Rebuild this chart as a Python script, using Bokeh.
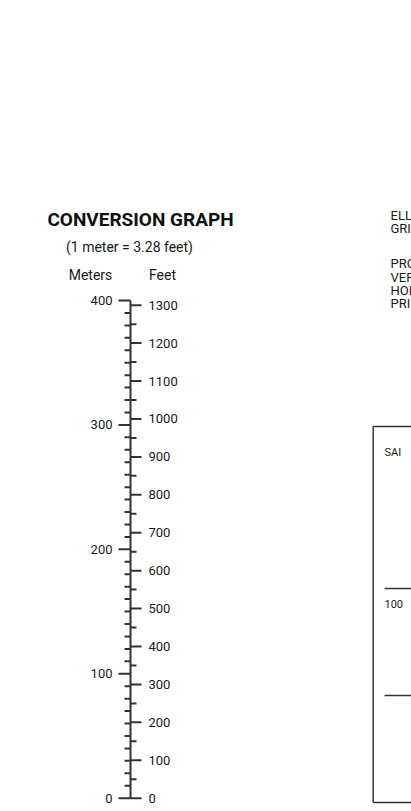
from bokeh.plotting import figure
from bokeh.models import Range1d
from bokeh.core.properties import value
from bokeh.embed import file_html
from bokeh.resources import INLINE

# ---- data ----
meters_major = [0, 100, 200, 300, 400]
meters_minor = [m for m in range(0, 401, 10) if m % 100 != 0]
feet_major = list(range(0, 1301, 100))
feet_minor = list(range(50, 1300, 100))
meters_labels = [str(m) for m in meters_major]
feet_labels = [str(f) for f in feet_major]
FT_PER_M = 3.28084

title = "CONVERSION GRAPH"
subtitle = "(1 meter = 3.28 feet)"
right_lines = ["ELL", "GRI", "PRO", "VER", "HOI", "PRI"]

# ---- layout (page pixel coordinates) ----
W, H = 411, 811
ZERO_Y = 797.7
PX_PER_M = 497.7 / 400.0
AXIS_X = 130
m_top = ZERO_Y / PX_PER_M
m_bot = (ZERO_Y - H) / PX_PER_M

p = figure(width=W, height=H, output_backend="svg", toolbar_location=None,
           x_range=Range1d(0, W), y_range=Range1d(m_bot, m_top),
           x_axis_location=None, y_axis_location=None, min_border=0,
           background_fill_color="white", border_fill_color="white")
p.extra_y_ranges = {"feet": Range1d(m_bot * FT_PER_M, m_top * FT_PER_M),
                    "page": Range1d(H, 0)}
p.grid.visible = False
p.outline_line_color = None

LC = "#333333"
TC = "#1a1a1a"
FONT = value("Roboto")

# main scale line
p.segment(x0=[AXIS_X], y0=[meters_major[0]], x1=[AXIS_X], y1=[meters_major[-1]],
          line_color=LC, line_width=2)
# meter ticks (left)
p.segment(x0=AXIS_X - 12, x1=AXIS_X, y0=meters_major, y1=meters_major,
          line_color=LC, line_width=2)
p.segment(x0=AXIS_X - 6, x1=AXIS_X, y0=meters_minor, y1=meters_minor,
          line_color=LC, line_width=2)
# feet ticks (right)
p.segment(x0=AXIS_X, x1=AXIS_X + 11, y0=feet_major, y1=feet_major,
          line_color=LC, line_width=2, y_range_name="feet")
p.segment(x0=AXIS_X, x1=AXIS_X + 6, y0=feet_minor, y1=feet_minor,
          line_color=LC, line_width=2, y_range_name="feet")

# tick labels
p.text(x=[AXIS_X - 18] * len(meters_major), y=meters_major, text=meters_labels,
       text_font=FONT, text_font_size="13px", text_color=TC,
       text_align="right", text_baseline="middle")
p.text(x=[AXIS_X + 18] * len(feet_major), y=feet_major, text=feet_labels,
       text_font=FONT, text_font_size="13px", text_color=TC,
       text_align="left", text_baseline="middle", y_range_name="feet")

# headings
p.text(x=[140], y=[219], text=[title], text_font=FONT,
       text_font_size="19px", text_font_style="bold", text_color="#111111",
       text_align="center", text_baseline="middle", y_range_name="page")
p.text(x=[129], y=[246], text=[subtitle], text_font=FONT, text_font_size="14px",
       text_color=TC, text_align="center", text_baseline="middle", y_range_name="page")
p.text(x=[90, 162], y=[274, 274], text=["Meters", "Feet"], text_font=FONT,
       text_font_size="14px", text_color=TC, text_align="center",
       text_baseline="middle", y_range_name="page")

# neighbouring panel, cut off at the right edge
p.text(x=[390] * 6, y=[215, 228, 263, 277, 290, 303], text=right_lines,
       text_font=FONT, text_font_size="13px", text_color=TC,
       text_align="left", text_baseline="middle", y_range_name="page")
p.text(x=[384, 384], y=[452, 603], text=["SAI", "100"], text_font=FONT,
       text_font_size="11px", text_color=TC, text_align="left",
       text_baseline="middle", y_range_name="page")
p.segment(x0=[372.7, 372.7, 372.7, 384, 384], y0=[426, 426, 802, 588, 695],
          x1=[372.7, W, W, W, W], y1=[802, 426, 802, 588, 695],
          line_color=LC, line_width=1.5, y_range_name="page")

open("out.html", "w").write(file_html(p, INLINE))
